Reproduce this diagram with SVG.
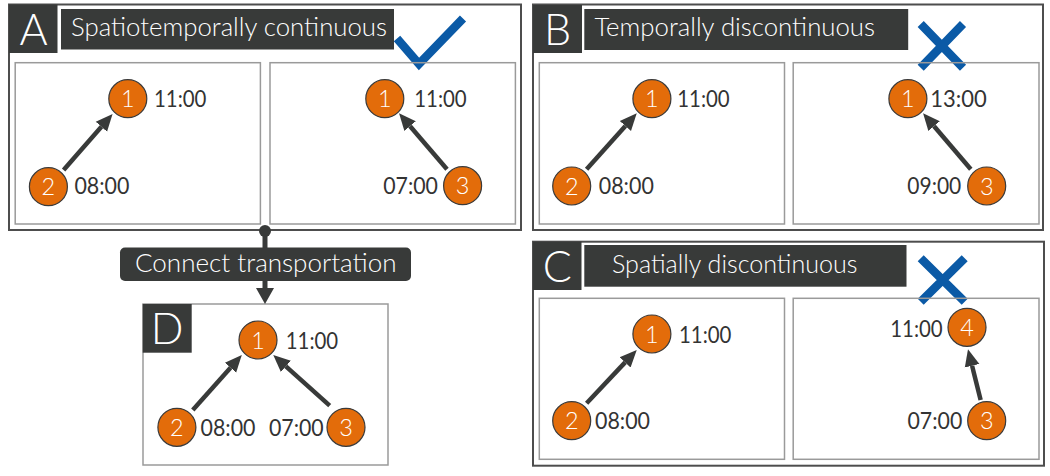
<svg xmlns="http://www.w3.org/2000/svg" width="1050" height="476" viewBox="0 0 1050 476">
<style>
.outer{fill:#fff;stroke:#4d4d4d;stroke-width:2}
.sub{fill:none;stroke:#9a9a9a;stroke-width:1.5}
.dark{fill:#383a39}
.letter{font-family:Lato,"Liberation Sans",sans-serif;font-weight:300;font-size:43px;fill:#fff;text-anchor:middle}
.title{font-family:Lato,"Liberation Sans",sans-serif;font-weight:300;font-size:25px;fill:#fff}
.node circle{fill:#e36c0a;stroke:#3a3a3a;stroke-width:1.2}
.node text{font-family:Lato,"Liberation Sans",sans-serif;font-weight:300;font-size:23.5px;fill:#fff;text-anchor:middle}
.time{font-family:Lato,"Liberation Sans",sans-serif;font-size:23px;fill:#333}
.edge{stroke:#383a39;stroke-width:4.5;fill:none;marker-end:url(#ah)}
.mark{stroke:#0b5aa6;stroke-width:8.5;fill:none}
</style>
<defs>
<marker id="ah" markerUnits="userSpaceOnUse" markerWidth="20" markerHeight="18" refX="0" refY="8" orient="auto" viewBox="0 0 20 16">
<path d="M0,0.5 L17,8 L0,15.5 z" fill="#383a39"/>
</marker>
</defs>

<!-- Panel A -->
<g id="panelA">
<rect class="outer" x="9" y="4.5" width="512" height="225.5"/>
<rect class="dark" x="9" y="4.5" width="48.5" height="48.5"/>
<text class="letter" x="33.5" y="44.5">A</text>
<rect class="dark" x="61" y="9" width="333" height="40.5"/>
<text class="title" x="71" y="36" textLength="316" lengthAdjust="spacingAndGlyphs">Spatiotemporally continuous</text>
<polyline class="mark" points="397,38.5 419,64 463,18.5"/>
<rect class="sub" x="15.2" y="62.7" width="245.2" height="161.3"/>
<rect class="sub" x="270" y="62.7" width="245.4" height="161.3"/>
</g>
<g id="A-n1a" class="node"><circle cx="127.8" cy="98.7" r="19"/><text x="127.8" y="107.2">1</text></g>
<g id="A-n2" class="node"><circle cx="48.4" cy="186.7" r="19"/><text x="48.4" y="195.2">2</text></g>
<g id="A-n1b" class="node"><circle cx="384.8" cy="98.7" r="19"/><text x="384.8" y="107.2">1</text></g>
<g id="A-n3" class="node"><circle cx="462.6" cy="185.7" r="19"/><text x="462.6" y="194.2">3</text></g>
<text class="time" x="154" y="107.3" textLength="52.4" lengthAdjust="spacingAndGlyphs">11:00</text>
<text class="time" x="74.4" y="194.3" textLength="55" lengthAdjust="spacingAndGlyphs">08:00</text>
<text class="time" x="414.3" y="107.3" textLength="52.4" lengthAdjust="spacingAndGlyphs">11:00</text>
<text class="time" x="383.2" y="194.3" textLength="54.8" lengthAdjust="spacingAndGlyphs">07:00</text>

<!-- Panel B -->
<g id="panelB">
<rect class="outer" x="533" y="4.5" width="510" height="225.5"/>
<rect class="dark" x="533" y="5" width="49" height="48"/>
<text class="letter" x="557.5" y="44.5">B</text>
<rect class="dark" x="584.3" y="9" width="323.9" height="41"/>
<text class="title" x="594.4" y="36" textLength="280.6" lengthAdjust="spacingAndGlyphs">Temporally discontinuous</text>
<path class="mark" d="M920.7,24 L963,67.7 M963,24 L920.7,67.7"/>
<rect class="sub" x="539.3" y="62.7" width="245.2" height="161.3"/>
<rect class="sub" x="793.2" y="62.7" width="245.8" height="161.3"/>
</g>
<g id="B-n1a" class="node"><circle cx="651.9" cy="98.7" r="19"/><text x="651.9" y="107.2">1</text></g>
<g id="B-n2" class="node"><circle cx="571.7" cy="186" r="19"/><text x="571.7" y="194.5">2</text></g>
<g id="B-n1b" class="node"><circle cx="907.9" cy="98.7" r="19"/><text x="907.9" y="107.2">1</text></g>
<g id="B-n3" class="node"><circle cx="986.7" cy="186" r="19"/><text x="986.7" y="194.5">3</text></g>
<text class="time" x="677.3" y="107.3" textLength="52.4" lengthAdjust="spacingAndGlyphs">11:00</text>
<text class="time" x="598.8" y="194.3" textLength="55" lengthAdjust="spacingAndGlyphs">08:00</text>
<text class="time" x="930.2" y="107.3" textLength="56.5" lengthAdjust="spacingAndGlyphs">13:00</text>
<text class="time" x="907.3" y="194.3" textLength="54" lengthAdjust="spacingAndGlyphs">09:00</text>

<!-- Panel C -->
<g id="panelC">
<rect class="outer" x="533" y="241.7" width="511" height="224"/>
<rect class="dark" x="533" y="241.7" width="48.5" height="48.3"/>
<text class="letter" x="557.2" y="281.5">C</text>
<rect class="dark" x="584.3" y="245" width="322.2" height="41.7"/>
<text class="title" x="612" y="273.3" textLength="245.5" lengthAdjust="spacingAndGlyphs">Spatially discontinuous</text>
<path class="mark" d="M920.7,258.3 L964.7,301.7 M964.7,258.3 L920.7,301.7"/>
<rect class="sub" x="539.3" y="298.3" width="245.2" height="161"/>
<rect class="sub" x="793.2" y="298.3" width="245.8" height="161"/>
</g>
<g id="C-n1" class="node"><circle cx="651.9" cy="334" r="19"/><text x="651.9" y="342.5">1</text></g>
<g id="C-n2" class="node"><circle cx="571.7" cy="420.7" r="19"/><text x="571.7" y="429.2">2</text></g>
<g id="C-n4" class="node"><circle cx="967" cy="327.3" r="19"/><text x="967" y="335.8">4</text></g>
<g id="C-n3" class="node"><circle cx="986.7" cy="420.7" r="19"/><text x="986.7" y="429.2">3</text></g>
<text class="time" x="679" y="343.3" textLength="52.4" lengthAdjust="spacingAndGlyphs">11:00</text>
<text class="time" x="595" y="429.3" textLength="55" lengthAdjust="spacingAndGlyphs">08:00</text>
<text class="time" x="890.3" y="337.3" textLength="52.4" lengthAdjust="spacingAndGlyphs">11:00</text>
<text class="time" x="907.5" y="429.3" textLength="54.8" lengthAdjust="spacingAndGlyphs">07:00</text>

<!-- Panel D -->
<g id="panelD">
<rect class="sub" x="143" y="304" width="245" height="161" fill="#fff"/>
<rect class="dark" x="142.7" y="304" width="49" height="48.7"/>
<text class="letter" x="167.2" y="344">D</text>
</g>
<g id="D-n1" class="node"><circle cx="258" cy="340" r="19"/><text x="258" y="348.5">1</text></g>
<g id="D-n2" class="node"><circle cx="176.9" cy="427.3" r="19"/><text x="176.9" y="435.8">2</text></g>
<g id="D-n3" class="node"><circle cx="346" cy="427.3" r="19"/><text x="346" y="435.8">3</text></g>
<text class="time" x="285.8" y="349.3" textLength="52.4" lengthAdjust="spacingAndGlyphs">11:00</text>
<text class="time" x="200.5" y="436" textLength="55" lengthAdjust="spacingAndGlyphs">08:00</text>
<text class="time" x="268.9" y="436" textLength="54.8" lengthAdjust="spacingAndGlyphs">07:00</text>

<!-- Connectors -->
<g id="connectors">
<line class="edge" x1="63.6" y1="170" x2="101.4" y2="126.8"/>
<line class="edge" x1="447" y1="169.3" x2="410.1" y2="126.2"/>
<line class="edge" x1="586.6" y1="169.3" x2="625.4" y2="126"/>
<line class="edge" x1="970.8" y1="169.3" x2="934.1" y2="126.2"/>
<line class="edge" x1="586.6" y1="403.3" x2="625.1" y2="362.4"/>
<line class="edge" x1="980.6" y1="400" x2="972.1" y2="365.8"/>
<line class="edge" x1="192.8" y1="410" x2="230.5" y2="367.7"/>
<line class="edge" x1="329.7" y1="405.7" x2="285.9" y2="366.4"/>
<g id="transport">
<circle cx="265" cy="231" r="6" fill="#383a39"/>
<line x1="265" y1="231" x2="265" y2="289" stroke="#383a39" stroke-width="5"/>
<polygon points="256,288 274,288 265,304" fill="#383a39"/>
<rect class="dark" x="120" y="247.5" width="291" height="33.5" rx="5"/>
<text class="title" x="135" y="272" font-size="27" textLength="261.5" lengthAdjust="spacingAndGlyphs">Connect transportation</text>
</g>
</g>
</svg>
